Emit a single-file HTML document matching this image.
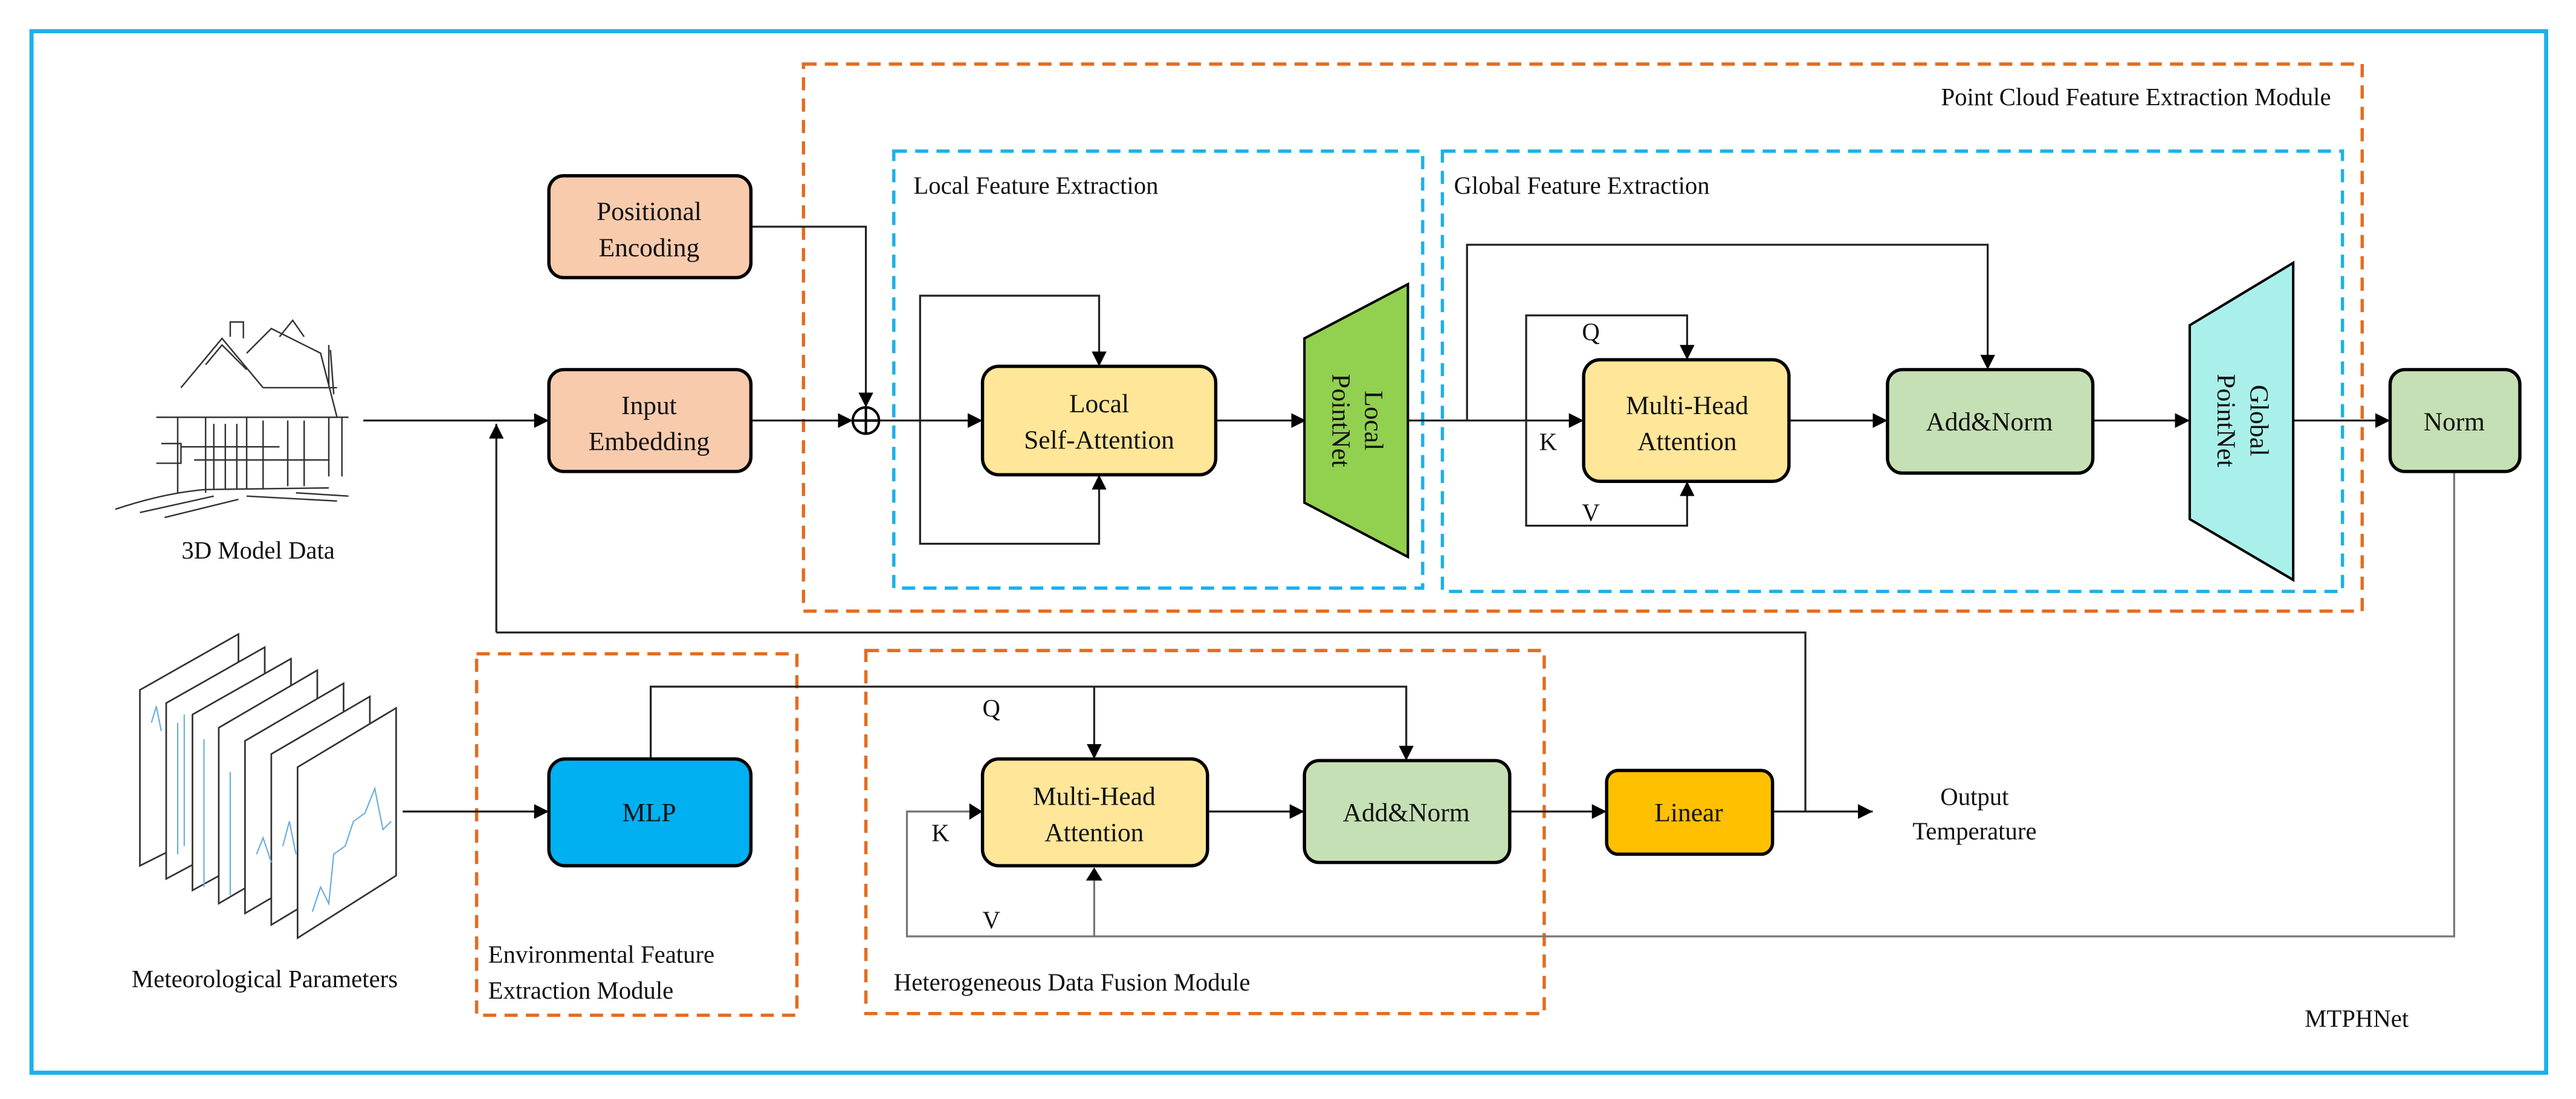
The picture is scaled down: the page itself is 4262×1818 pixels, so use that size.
<!DOCTYPE html>
<html><head><meta charset="utf-8"><style>
html,body{margin:0;padding:0;background:#fff;}
svg{display:block;font-family:"Liberation Serif","Times New Roman","DejaVu Serif",serif;}
svg text{font-family:"Liberation Serif","Times New Roman","DejaVu Serif",serif;fill:#111;}
</style></head><body>
<svg width="4262" height="1818" viewBox="0 0 1568 669" xmlns="http://www.w3.org/2000/svg" font-family="Liberation Serif, Times New Roman, serif">
<defs>
<marker id="a" viewBox="0 0 10 10" refX="10" refY="5" markerWidth="9" markerHeight="9" markerUnits="userSpaceOnUse" orient="auto"><path d="M0,0 L10,5 L0,10 z" fill="#000"/></marker>
</defs>
<rect x="0" y="0" width="1568" height="669" fill="#fff"/>
<rect x="19" y="19" width="1531" height="634" fill="none" stroke="#1cb0ea" stroke-width="2.5"/>

<g fill="none" stroke="#e46c1f" stroke-width="2" stroke-dasharray="8,5">
<rect x="489" y="39" width="949" height="333"/>
<rect x="290" y="398" width="195" height="220"/>
<rect x="527" y="396" width="413" height="221"/>
</g>
<g fill="none" stroke="#1cb0ea" stroke-width="2" stroke-dasharray="8,5">
<rect x="544" y="92" width="322" height="266"/>
<rect x="878" y="92" width="548" height="268"/>
</g>

<g font-size="15" font-family="Liberation Serif, serif">
<text x="1419" y="64" text-anchor="end">Point Cloud Feature Extraction Module</text>
<text x="556" y="118">Local Feature Extraction</text>
<text x="885" y="118">Global Feature Extraction</text>
<text x="297" y="586">Environmental Feature</text>
<text x="297" y="608">Extraction Module</text>
<text x="544" y="603">Heterogeneous Data Fusion Module</text>
<text x="1403" y="625">MTPHNet</text>
<text x="157" y="340" text-anchor="middle">3D Model Data</text>
<text x="161" y="601" text-anchor="middle">Meteorological Parameters</text>
<text x="1202" y="490" text-anchor="middle">Output</text>
<text x="1202" y="511" text-anchor="middle">Temperature</text>
</g>

<g fill="none" stroke="#222" stroke-width="1.2">
<path d="M221 256 H334" marker-end="url(#a)"/>
<path d="M302 385 V258" marker-end="url(#a)"/>
<path d="M302 385 H1099 V494"/>
<path d="M457 256 H519" marker-end="url(#a)"/>
<path d="M457 138 H527 V248" marker-end="url(#a)"/>
<path d="M535 256 H598" marker-end="url(#a)"/>
<path d="M560 256 V180 H669 V223" marker-end="url(#a)"/>
<path d="M560 256 V331 H669 V289" marker-end="url(#a)"/>
<path d="M740 256 H795" marker-end="url(#a)"/>
<path d="M857 256 H964" marker-end="url(#a)"/>
<path d="M893 256 V149 H1210 V225" marker-end="url(#a)"/>
<path d="M929 256 V192 H1027 V219" marker-end="url(#a)"/>
<path d="M929 256 V320 H1027 V293" marker-end="url(#a)"/>
<path d="M1089 256 H1149" marker-end="url(#a)"/>
<path d="M1274 256 H1333" marker-end="url(#a)"/>
<path d="M1396 256 H1455" marker-end="url(#a)"/>
<path d="M245 494 H334" marker-end="url(#a)"/>
<path d="M396 462 V418 H856 V463" marker-end="url(#a)"/>
<path d="M666 418 V462" marker-end="url(#a)"/>
<path d="M735 494 H794" marker-end="url(#a)"/>
<path d="M919 494 H978" marker-end="url(#a)"/>
<path d="M1079 494 H1140" marker-end="url(#a)"/>
</g>
<g fill="none" stroke="#777" stroke-width="1.2">
<path d="M1494 287 V570 H552 V494 H590"/>
<path d="M666 570 V536"/>
</g>
<path d="M590 489 L598 494 L590 499 z" fill="#000"/>
<path d="M661 536 L666 528 L671 536 z" fill="#000"/>

<circle cx="527" cy="256" r="8" fill="#fff" stroke="#000" stroke-width="1.5"/>
<path d="M519 256 H535 M527 248 V264" stroke="#000" stroke-width="1.5"/>

<g stroke="#000" stroke-width="2">
<rect x="334" y="107" width="123" height="62" rx="9" fill="#f8cbad"/>
<rect x="334" y="225" width="123" height="62" rx="9" fill="#f8cbad"/>
<rect x="598" y="223" width="142" height="66" rx="10" fill="#ffe699"/>
<polygon points="794,206 857,173 857,339 794,306" fill="#92d050" stroke-width="1.5"/>
<rect x="964" y="219" width="125" height="74" rx="10" fill="#ffe699"/>
<rect x="1149" y="225" width="125" height="63" rx="9" fill="#c5e0b4"/>
<polygon points="1333,198 1396,160 1396,353 1333,316" fill="#aaf0ea" stroke-width="1.5"/>
<rect x="1455" y="225" width="79" height="62" rx="9" fill="#c5e0b4"/>
<rect x="334" y="462" width="123" height="65" rx="10" fill="#00b0f0"/>
<rect x="598" y="462" width="137" height="65" rx="10" fill="#ffe699"/>
<rect x="794" y="463" width="125" height="62" rx="9" fill="#c5e0b4"/>
<rect x="978" y="469" width="101" height="51" rx="7" fill="#ffc000"/>
</g>
<g font-size="16" text-anchor="middle" font-family="Liberation Serif, serif">
<text x="395" y="134">Positional</text>
<text x="395" y="156">Encoding</text>
<text x="395" y="252">Input</text>
<text x="395" y="274">Embedding</text>
<text x="669" y="251">Local</text>
<text x="669" y="273">Self-Attention</text>
<text x="1027" y="252">Multi-Head</text>
<text x="1027" y="274">Attention</text>
<text x="1211" y="262">Add&amp;Norm</text>
<text x="1494" y="262">Norm</text>
<text x="395" y="500">MLP</text>
<text x="666" y="490">Multi-Head</text>
<text x="666" y="512">Attention</text>
<text x="856" y="500">Add&amp;Norm</text>
<text x="1028" y="500">Linear</text>
<text transform="translate(826,256) rotate(90)" y="-5">Local</text>
<text transform="translate(826,256) rotate(90)" y="15">PointNet</text>
<text transform="translate(1365,256) rotate(90)" y="-5">Global</text>
<text transform="translate(1365,256) rotate(90)" y="15">PointNet</text>
</g>
<g font-size="15" font-family="Liberation Serif, serif">
<text x="963" y="207">Q</text>
<text x="937" y="274">K</text>
<text x="963" y="317">V</text>
<text x="598" y="436">Q</text>
<text x="567" y="512">K</text>
<text x="598" y="565">V</text>
</g>

<g fill="none" stroke="#333" stroke-width="0.9">
<path d="M95 254 H212 M110 236 L135 206 L160 236 M125 222 L135 210 L150 225 M150 215 L165 200 L195 215 L205 254 M160 236 H205"/>
<path d="M140 205 V196 H148 V206 M170 205 L178 195 L185 205 M200 210 V235 M201 213 L203 240"/>
<path d="M108 254 V300 M125 254 V300 M130 258 V298 M137 258 V298 M144 258 V298 M150 254 V298 M160 256 V298 M175 256 V296 M185 256 V296 M200 254 V290 M208 254 V290"/>
<path d="M110 272 H170 M98 270 H110 V282 H95 M118 280 H200"/>
<path d="M70 310 Q100 300 125 298 L200 297 M85 312 L130 302 M100 315 L145 304 M150 302 L205 305 M180 300 L212 302"/>
</g>

<g stroke="#333" stroke-width="1" fill="#fff">
<polygon points="85,420 145,386 145,497 85,527"/>
<polygon points="101,428 161,394 161,503 101,535"/>
<polygon points="117,435 177,401 177,509 117,542"/>
<polygon points="133,443 193,408 193,515 133,550"/>
<polygon points="149,451 209,416 209,521 149,556"/>
<polygon points="165,459 225,424 225,527 165,563"/>
<polygon points="181,467 241,431 241,533 181,571"/>
</g>
<g fill="none" stroke="#6aaee0" stroke-width="0.8">
<path d="M92 440 L95 430 L98 445 M108 440 V520 M112 435 V515 M124 450 V540 M140 470 V545 M156 520 L160 510 L165 525 M172 515 L176 500 L180 520"/>
<path d="M190 555 L195 540 L200 550 L203 520 L210 515 L215 500 L222 495 L228 480 L233 505 L238 500"/>
</g>
</svg>
</body></html>
